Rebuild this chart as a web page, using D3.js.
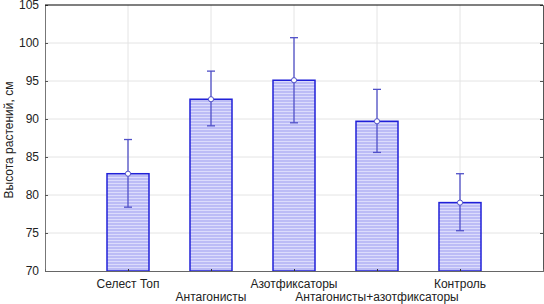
<!DOCTYPE html>
<html>
<head>
<meta charset="utf-8">
<script src="https://cdn.jsdelivr.net/npm/d3@7"></script>
<style>
  body { margin: 0; background: #fff; }
  svg { display: block; font-family: "Liberation Sans", Arial, sans-serif; }
</style>
</head>
<body>
<script>
// данные
const categories = ["Селест Топ", "Антагонисты", "Азотфиксаторы", "Антагонисты+азотфиксаторы", "Контроль"];
const means = [82.8, 92.6, 95.1, 89.7, 79.0];
const errHigh = [87.3, 96.3, 100.7, 93.9, 82.8];
const errLow = [78.4, 89.1, 89.5, 85.6, 75.3];
const yTicks = [70, 75, 80, 85, 90, 95, 100, 105];

const width = 544, height = 304;
const plotL = 45, plotR = 543, plotT = 5, plotB = 271;

const svg = d3.select("body").append("svg")
  .attr("width", width)
  .attr("height", height);

// светлые горизонтальные строки поверх заливки
const defs = svg.append("defs");
const pat = defs.append("pattern")
  .attr("id", "dots")
  .attr("width", 3).attr("height", 3)
  .attr("patternUnits", "userSpaceOnUse");
pat.append("rect").attr("width", 3).attr("height", 3).attr("fill", "#bcbcf6");
pat.append("rect").attr("width", 3).attr("height", 1).attr("fill", "#dcdcfc");

const x = d3.scalePoint().domain(categories).range([plotL, plotR]).padding(1);
const y = d3.scaleLinear().domain([70, 105]).range([plotB, plotT]);
const barW = 42;

// сетка
svg.append("g").selectAll("line.h")
  .data(yTicks.slice(1, -1))
  .enter().append("line")
  .attr("x1", plotL).attr("x2", plotR)
  .attr("y1", d => y(d)).attr("y2", d => y(d))
  .attr("stroke", "#e4e4e4");
svg.append("g").selectAll("line.v")
  .data(categories)
  .enter().append("line")
  .attr("x1", d => x(d)).attr("x2", d => x(d))
  .attr("y1", plotT).attr("y2", plotB)
  .attr("stroke", "#e4e4e4");

// оси
const yAxisL = d3.axisLeft(y).tickValues(yTicks).tickSize(-3).tickPadding(6);
const gL = svg.append("g").attr("transform", "translate(" + plotL + ",0)").call(yAxisL);
gL.attr("font-family", null).attr("font-size", 12);
gL.select(".domain").attr("stroke", "#777");
gL.selectAll(".tick line").attr("stroke", "#555");
gL.selectAll(".tick text").attr("fill", "#222");

const gR = svg.append("g").attr("transform", "translate(" + plotR + ",0)")
  .call(d3.axisRight(y).tickValues(yTicks).tickSize(-3).tickFormat(""));
gR.select(".domain").attr("stroke", "#555");
gR.selectAll(".tick line").attr("stroke", "#555");

svg.append("line")
  .attr("x1", plotL).attr("x2", plotR).attr("y1", plotT).attr("y2", plotT)
  .attr("stroke", "#000").attr("stroke-width", 1.2);

// столбцы
svg.append("g").selectAll("rect")
  .data(categories)
  .enter().append("rect")
  .attr("x", d => x(d) - barW / 2)
  .attr("y", (d, i) => y(means[i]))
  .attr("width", barW)
  .attr("height", (d, i) => plotB - y(means[i]))
  .attr("fill", "url(#dots)")
  .attr("stroke", "#2020d8")
  .attr("stroke-width", 1.5);

const xAxis = d3.axisBottom(x).tickSize(-2).tickFormat("");
const gB = svg.append("g").attr("transform", "translate(0," + plotB + ")").call(xAxis);
gB.select(".domain").attr("stroke", "#666");
gB.selectAll(".tick line").attr("stroke", "#333");

// подписи категорий
svg.append("g").selectAll("text")
  .data(categories)
  .enter().append("text")
  .attr("x", d => x(d))
  .attr("y", (d, i) => i % 2 === 0 ? 288 : 301)
  .attr("text-anchor", "middle")
  .attr("font-size", 12)
  .attr("fill", "#222")
  .text(d => d);

// погрешности
const err = svg.append("g").attr("stroke", "#5050c8").attr("stroke-width", 1.3);
categories.forEach((c, i) => {
  const cx = x(c);
  err.append("line").attr("x1", cx).attr("x2", cx).attr("y1", y(errHigh[i])).attr("y2", y(errLow[i]));
  err.append("line").attr("x1", cx - 4).attr("x2", cx + 4).attr("y1", y(errHigh[i])).attr("y2", y(errHigh[i]));
  err.append("line").attr("x1", cx - 4).attr("x2", cx + 4).attr("y1", y(errLow[i])).attr("y2", y(errLow[i]));
});
svg.append("g").selectAll("circle")
  .data(categories)
  .enter().append("circle")
  .attr("cx", d => x(d))
  .attr("cy", (d, i) => y(means[i]))
  .attr("r", 2.6)
  .attr("fill", "#fff")
  .attr("stroke", "#5050c8")
  .attr("stroke-width", 1);

// подпись оси Y
svg.append("text")
  .attr("transform", "translate(10,140) rotate(-90)")
  .attr("text-anchor", "middle")
  .attr("dominant-baseline", "middle")
  .attr("font-size", 12)
  .attr("fill", "#222")
  .text("Высота растений, см");
</script>
</body>
</html>
